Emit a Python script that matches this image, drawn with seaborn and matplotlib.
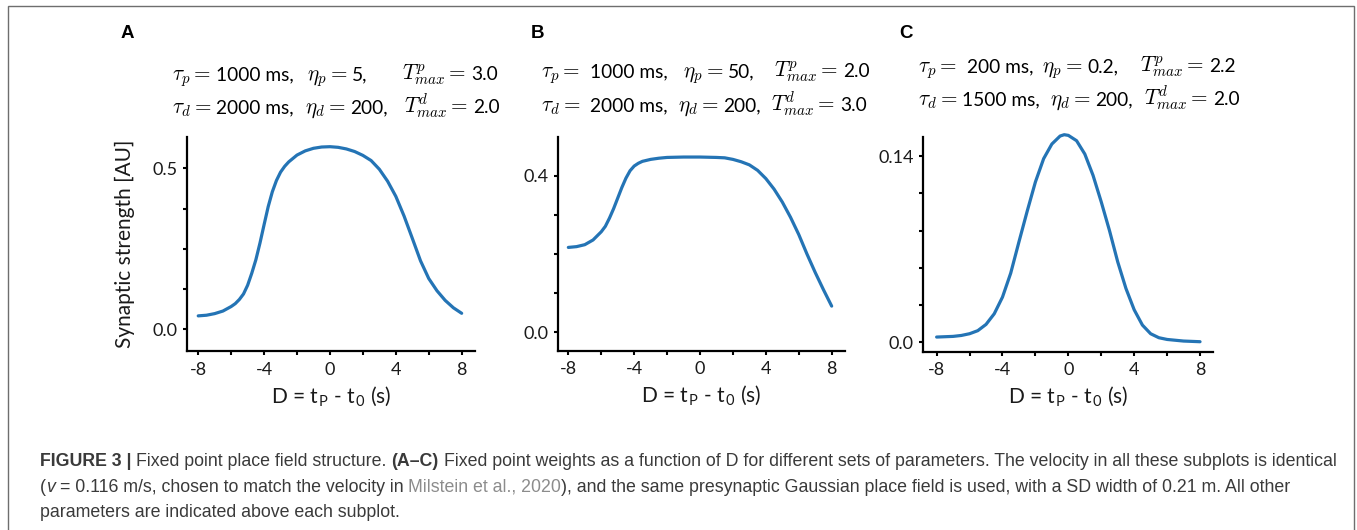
import matplotlib
matplotlib.use("Agg")
import matplotlib.pyplot as plt
import seaborn as sns
import pandas as pd
from matplotlib.patches import Rectangle
from matplotlib.ticker import FixedLocator

# ---------------------------------------------------------------------------
# Fixed point weights as a function of D = t_P - t_0 (s)
# ---------------------------------------------------------------------------
d_a = [-8.0, -7.5, -7.0, -6.5, -6.0, -5.75, -5.5, -5.25, -5.0, -4.75, -4.5,
       -4.25, -4.0, -3.75, -3.5, -3.25, -3.0, -2.75, -2.5, -2.0, -1.5, -1.0,
       -0.5, 0.0, 0.5, 1.0, 1.5, 2.0, 2.5, 3.0, 3.5, 4.0, 4.5, 5.0, 5.5, 6.0,
       6.5, 7.0, 7.5, 8.0]
w_a = [0.042, 0.044, 0.049, 0.057, 0.071, 0.080, 0.093, 0.110, 0.137, 0.174,
       0.216, 0.268, 0.325, 0.381, 0.427, 0.462, 0.488, 0.506, 0.520, 0.541,
       0.554, 0.562, 0.566, 0.567, 0.565, 0.560, 0.552, 0.540, 0.524, 0.497,
       0.460, 0.413, 0.352, 0.283, 0.213, 0.158, 0.120, 0.090, 0.067, 0.050]

d_b = [-8.0, -7.5, -7.0, -6.5, -6.0, -5.75, -5.5, -5.25, -5.0, -4.75, -4.5,
       -4.25, -4.0, -3.75, -3.5, -3.0, -2.5, -2.0, -1.0, 0.0, 1.0, 1.5, 2.0,
       2.5, 3.0, 3.5, 4.0, 4.5, 5.0, 5.5, 6.0, 6.5, 7.0, 7.5, 8.0]
w_b = [0.217, 0.219, 0.224, 0.236, 0.257, 0.271, 0.292, 0.316, 0.343, 0.370,
       0.394, 0.413, 0.425, 0.432, 0.437, 0.442, 0.445, 0.447, 0.448, 0.448,
       0.447, 0.446, 0.442, 0.436, 0.428, 0.414, 0.393, 0.366, 0.333, 0.294,
       0.250, 0.200, 0.153, 0.109, 0.067]

d_c = [-8.0, -7.0, -6.5, -6.0, -5.5, -5.0, -4.5, -4.0, -3.5, -3.0, -2.5,
       -2.0, -1.5, -1.0, -0.5, -0.25, 0.0, 0.5, 1.0, 1.5, 2.0, 2.5, 3.0, 3.5,
       4.0, 4.5, 5.0, 5.5, 6.0, 7.0, 8.0]
w_c = [0.0040, 0.0045, 0.0052, 0.0065, 0.0088, 0.0135, 0.0215, 0.0340,
       0.0520, 0.0755, 0.0985, 0.1205, 0.1380, 0.1490, 0.1550, 0.1560,
       0.1555, 0.1515, 0.1415, 0.1255, 0.1055, 0.0840, 0.0605, 0.0405,
       0.0245, 0.0130, 0.0065, 0.0035, 0.0022, 0.0010, 0.0005]

panel_letters = ["A", "B", "C"]
x_major = [-8, -4, 0, 4, 8]
x_minor = [-6, -2, 2, 6]
y_major = [[0.0, 0.5], [0.0, 0.4], [0.0, 0.14]]
y_major_labels = [["0.0", "0.5"], ["0.0", "0.4"], ["0.0", "0.14"]]
y_minor = [[0.125, 0.25, 0.375], [0.1, 0.2, 0.3], [0.028, 0.056, 0.084, 0.112]]

# parameter sets written above each panel: (symbol, value) groups per row
param_lines = [
    ([(r"$\tau_p =$", " 1000 ms,"), (r"$\eta_p =$", " 5,"), (r"$T^p_{max} =$", " 3.0")],
     [(r"$\tau_d =$", " 2000 ms,"), (r"$\eta_d =$", " 200,"), (r"$T^d_{max} =$", " 2.0")]),
    ([(r"$\tau_p =$", "  1000 ms,"), (r"$\eta_p =$", " 50,"), (r"$T^p_{max} =$", " 2.0")],
     [(r"$\tau_d =$", "  2000 ms,"), (r"$\eta_d =$", " 200,"), (r"$T^d_{max} =$", " 3.0")]),
    ([(r"$\tau_p =$", "  200 ms,"), (r"$\eta_p =$", " 0.2,"), (r"$T^p_{max} =$", " 2.2")],
     [(r"$\tau_d =$", " 1500 ms,"), (r"$\eta_d =$", " 200,"), (r"$T^d_{max} =$", " 2.0")]),
]

caption_lines = [
    [("FIGURE 3 |", "bold", "normal", "text"),
     (" Fixed point place field structure.", "normal", "normal", "text"),
     (" (A\u2013C)", "bold", "normal", "text"),
     (" Fixed point weights as a function of D for different sets of parameters. "
      "The velocity in all these subplots is identical", "normal", "normal", "text")],
    [("(", "normal", "normal", "text"),
     ("v", "normal", "italic", "text"),
     (" = 0.116 m/s, chosen to match the velocity in", "normal", "normal", "text"),
     (" Milstein et al., 2020", "normal", "normal", "link"),
     ("), and the same presynaptic Gaussian place field is used, with a SD width "
      "of 0.21 m. All other", "normal", "normal", "text")],
    [("parameters are indicated above each subplot.", "normal", "normal", "text")],
]

# ---------------------------------------------------------------------------
W, H = 1357, 530
sns.set_theme(style="ticks")
plt.rcParams["font.family"] = ["Lato", "DejaVu Sans"]
plt.rcParams["mathtext.fontset"] = "cm"

LINE = "#2474b5"
AX_FONT = "Lato"
CAP_FONT = "Liberation Sans"
INK = "#1a1a1a"

fig = plt.figure(figsize=(W / 100, H / 100), dpi=100)
fig.patch.set_facecolor("white")

# axes boxes in pixels: left, top, right, bottom
boxes = [(186.7, 136.7, 475.0, 351.0),
         (558.3, 136.7, 845.0, 350.7),
         (923.3, 136.7, 1212.7, 351.7)]
xlims = [(-8.70, 8.81), (-8.61, 8.81), (-8.81, 8.77)]
ylims = [(-0.067, 0.598), (-0.047, 0.500), (-0.007, 0.1545)]
curves = [(d_a, w_a), (d_b, w_b), (d_c, w_c)]

axes = []
for i, (l, t, r, b) in enumerate(boxes):
    ax = fig.add_axes([l / W, 1 - b / H, (r - l) / W, (b - t) / H])
    df = pd.DataFrame({"D": curves[i][0], "w": curves[i][1]})
    sns.lineplot(data=df, x="D", y="w", ax=ax, color=LINE, linewidth=2.3,
                 clip_on=False)
    ax.set_xlim(*xlims[i])
    ax.set_ylim(*ylims[i])
    sns.despine(ax=ax)
    for s in ("left", "bottom"):
        ax.spines[s].set_linewidth(1.6)
        ax.spines[s].set_color("black")
    ax.xaxis.set_major_locator(FixedLocator(x_major))
    ax.xaxis.set_minor_locator(FixedLocator(x_minor))
    ax.set_xticklabels([str(v) for v in x_major])
    ax.yaxis.set_major_locator(FixedLocator(y_major[i]))
    ax.yaxis.set_minor_locator(FixedLocator(y_minor[i]))
    ax.set_yticklabels(y_major_labels[i])
    ax.tick_params(which="both", direction="out", length=3.2, width=1.5,
                   color="black", labelsize=13, labelcolor=INK)
    ax.tick_params(axis="y", which="both", pad=3.5)
    ax.tick_params(axis="x", which="both", pad=4.5)
    for lab in ax.get_xticklabels() + ax.get_yticklabels():
        lab.set_family(AX_FONT)
    ax.set_xlabel(r"D = t$_\mathregular{P}$ - t$_\mathregular{0}$ (s)",
                  fontsize=15, family=AX_FONT, color=INK, labelpad=5)
    ax.set_ylabel("")
    axes.append(ax)

axes[0].set_ylabel("Synaptic strength [AU]", fontsize=15, family=AX_FONT,
                   color=INK)
axes[0].yaxis.set_label_coords(-0.18, 0.5)

# panel letters
letter_pos = [(121, 33), (531, 33), (899, 33)]
for letter, (x, y) in zip(panel_letters, letter_pos):
    fig.text(x / W, 1 - y / H, letter, fontsize=13.5, fontweight="bold",
             family="Liberation Sans", ha="left", va="center", color="black")

# figure frame
fig.patches.append(Rectangle((8 / W, -0.02), (1354 - 8) / W, (H - 6) / H + 0.02,
                             transform=fig.transFigure, fill=False,
                             edgecolor="#6e6e6e", linewidth=1.0))

renderer = fig.canvas.get_renderer()


def text_width(s, **props):
    t = fig.text(0, 0, s, **props)
    w = t.get_window_extent(renderer).width
    t.remove()
    return w


def draw_runs(x0, y0, runs, draw=True):
    """Draw a row of (text, props) pieces one after another on a baseline."""
    x = x0
    for s, props in runs:
        space = (text_width("a a", **props) - text_width("aa", **props))
        lead = len(s) - len(s.lstrip(" "))
        x += lead * space
        body = s.strip(" ")
        if draw:
            fig.text(x / W, 1 - y0 / H, body, ha="left", va="baseline", **props)
        x += text_width(body, **props)
        x += (len(s) - len(s.rstrip(" "))) * space
    return x - x0


# parameter annotations above each subplot
TEXT_P = dict(fontsize=13.8, family=AX_FONT, color="black")
MATH_P = dict(fontsize=15.3, family=AX_FONT, color="black")
# left edge of each (symbol, value) group and baseline of each row, in pixels
group_x = [((172, 307, 402), (172, 305, 404)),
           ((541, 683, 774), (541, 678, 771)),
           ((918, 1042, 1140), (918, 1050, 1144))]
row_y = [(80, 113), (77, 111), (72, 105)]
for gx_rows, ys, lines in zip(group_x, row_y, param_lines):
    for gxs, y, groups in zip(gx_rows, ys, lines):
        for gx, (sym, val) in zip(gxs, groups):
            draw_runs(gx, y, [(sym, MATH_P), (val, TEXT_P)])

# caption with mixed styles
colors = {"text": "#3a3a3a", "link": "#8c8c8c"}


def caption_runs(line, size):
    return [(s, dict(fontsize=size, fontweight=wt, fontstyle=st,
                     family=CAP_FONT, color=colors[c]))
            for s, wt, st, c in line]


base = 11.0
span = draw_runs(0, 0, caption_runs(caption_lines[0], base), draw=False)
cap_size = base * (1343 - 40) / span * 0.996
for y, line in zip([466, 492, 517], caption_lines):
    draw_runs(40, y, caption_runs(line, cap_size))

fig.savefig("out.png", dpi=100, facecolor="white")
